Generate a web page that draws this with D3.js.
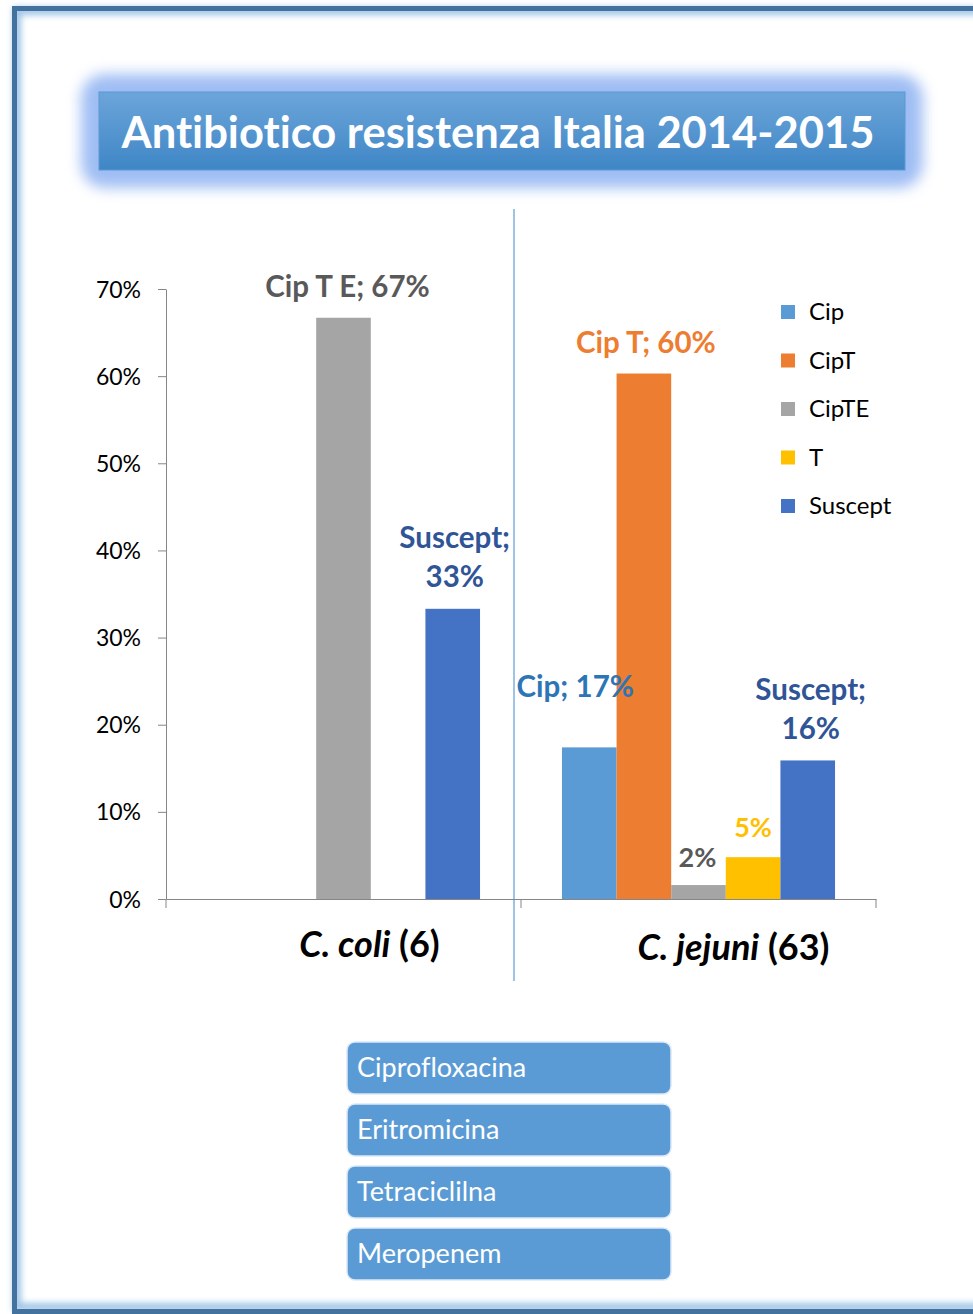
<!DOCTYPE html>
<html>
<head>
<meta charset="utf-8">
<script src="https://cdn.jsdelivr.net/npm/d3@7"></script>
<style>
  html, body { margin: 0; padding: 0; background: #fff; }
  svg { display: block; }
  text { font-family: Lato, "Open Sans", sans-serif; font-variant-ligatures: none; font-feature-settings: "liga" 0; }
</style>
</head>
<body>
<svg id="chart" width="973" height="1314"></svg>
<script>
// ---- data ----
const categories = ["C. coli", "C. jejuni"];
const categorySizes = [6, 63];
const series = ["Cip", "CipT", "CipTE", "T", "Suscept"];
const seriesLabelNames = ["Cip", "Cip T", "Cip T E", "T", "Suscept"];
const coliValues = [0, 0, 0.667, 0, 0.333];
const jejuniValues = [0.174, 0.603, 0.016, 0.048, 0.159];
const yTicks = [0, 0.1, 0.2, 0.3, 0.4, 0.5, 0.6, 0.7];
const antibiotics = ["Ciprofloxacina", "Eritromicina", "Tetraciclilna", "Meropenem"];
const titleText = "Antibiotico resistenza Italia 2014-2015";

// ---- styles ----
const seriesColors = ["#5B9BD5", "#ED7D31", "#A5A5A5", "#FFC000", "#4472C4"];
const labelColors = ["#2E75B6", "#ED7D31", "#595959", "#FFC000", "#2F5597"];

const svg = d3.select("#chart");
const defs = svg.append("defs");

// soft blur filters
defs.append("filter").attr("id", "glow")
  .attr("x", "-20%").attr("y", "-50%").attr("width", "140%").attr("height", "200%")
  .append("feGaussianBlur").attr("stdDeviation", 7);
defs.append("filter").attr("id", "edgeGlow")
  .attr("x", "-5%").attr("y", "-5%").attr("width", "110%").attr("height", "110%")
  .append("feGaussianBlur").attr("stdDeviation", 3);

const titleGrad = defs.append("linearGradient").attr("id", "titleGrad")
  .attr("x1", 0).attr("y1", 0).attr("x2", 0).attr("y2", 1);
titleGrad.append("stop").attr("offset", "0%").attr("stop-color", "#6CA5DA");
titleGrad.append("stop").attr("offset", "100%").attr("stop-color", "#3F86C6");

// ---- page frame ----
const frame = svg.append("g");
frame.append("rect")
  .attr("x", 17).attr("y", 11).attr("width", 980).attr("height", 1296)
  .attr("fill", "none").attr("stroke", "#9DC3E6").attr("stroke-width", 8)
  .attr("filter", "url(#edgeGlow)");
frame.append("rect")
  .attr("x", 14.5).attr("y", 8.5).attr("width", 990).attr("height", 1303)
  .attr("fill", "none").attr("stroke", "#44729E").attr("stroke-width", 5);

// ---- title ----
const titleBox = { x: 99, y: 92, w: 806, h: 78 };
svg.append("rect")
  .attr("x", titleBox.x - 18).attr("y", titleBox.y - 18)
  .attr("width", titleBox.w + 36).attr("height", titleBox.h + 36)
  .attr("rx", 24).attr("fill", "#8FB2F2").attr("opacity", 0.85)
  .attr("filter", "url(#glow)");
svg.append("rect")
  .attr("x", titleBox.x).attr("y", titleBox.y)
  .attr("width", titleBox.w).attr("height", titleBox.h)
  .attr("fill", "url(#titleGrad)").attr("stroke", "#5A9AD3").attr("stroke-width", 1);
svg.append("text")
  .attr("x", titleBox.x + titleBox.w / 2 - 4).attr("y", titleBox.y + 56)
  .attr("text-anchor", "middle")
  .attr("font-size", 43.5).attr("font-weight", 700).attr("fill", "#fff")
  .text(titleText);

// ---- scales ----
const x0 = d3.scaleBand().domain(categories).range([166, 876]).padding(0);
const x1 = d3.scaleBand().domain(series).range([0, x0.bandwidth()])
  .paddingInner(0).paddingOuter(0.75);
const y = d3.scaleLinear().domain([0, 0.7]).range([899, 289]);
const pct = d3.format(".0%");

// separator between the two species
svg.append("line")
  .attr("x1", x0("C. jejuni") - 7).attr("x2", x0("C. jejuni") - 7)
  .attr("y1", 209).attr("y2", 981)
  .attr("stroke", "#9DC3E6").attr("stroke-width", 2);

// ---- axes ----
const yAxis = svg.append("g")
  .attr("transform", `translate(${x0.range()[0]},0)`)
  .call(d3.axisLeft(y).tickValues(yTicks).tickFormat(pct).tickSize(8).tickSizeOuter(0).tickPadding(17));
yAxis.selectAll("path, line").attr("stroke", "#868686");
yAxis.selectAll("text").attr("font-size", 23).attr("fill", "#000")
  .attr("font-family", "Lato, sans-serif").attr("dy", "0.35em");

const xAxis = svg.append("g")
  .attr("transform", `translate(0,${y(0)})`)
  .call(d3.axisBottom(x0).tickValues([]).tickSizeOuter(0));
xAxis.select("path").attr("stroke", "#868686");
// category boundary ticks
const bounds = [x0.range()[0], x0("C. jejuni"), x0.range()[1]];
svg.append("g").selectAll("line").data(bounds).join("line")
  .attr("x1", d => d).attr("x2", d => d)
  .attr("y1", y(0)).attr("y2", y(0) + 9)
  .attr("stroke", "#868686").attr("stroke-width", 1);

// ---- bars ----
const groups = [
  { cat: "C. coli", values: coliValues },
  { cat: "C. jejuni", values: jejuniValues }
];
const barData = [];
groups.forEach(g => g.values.forEach((v, i) => {
  if (v > 0) barData.push({ cat: g.cat, s: series[i], i, v });
}));

svg.append("g").selectAll("rect").data(barData).join("rect")
  .attr("x", d => x0(d.cat) + x1(d.s))
  .attr("y", d => y(d.v))
  .attr("width", x1.bandwidth())
  .attr("height", d => y(0) - y(d.v))
  .attr("fill", d => seriesColors[d.i]);

// ---- data labels ----
// which bars show the series name, nudges and line layout
const labelLayout = {
  "C. coli|CipTE":   { name: true, lines: 1, dx: 4, gap: 21 },
  "C. coli|Suscept": { name: true, lines: 2, dx: 2, gap: 22 },
  "C. jejuni|Cip":   { name: true, lines: 1, dx: -14, gap: 50 },
  "C. jejuni|CipT":  { name: true, lines: 1, dx: 2, gap: 21 },
  "C. jejuni|CipTE": { name: false, lines: 1, dx: -1, gap: 18 },
  "C. jejuni|T":     { name: false, lines: 1, dx: 0, gap: 20 },
  "C. jejuni|Suscept": { name: true, lines: 2, dx: 3, gap: 21 }
};
const lineH = 39;
const labels = svg.append("g");
barData.forEach(d => {
  const L = labelLayout[d.cat + "|" + d.s];
  const cx = x0(d.cat) + x1(d.s) + x1.bandwidth() / 2 + L.dx;
  const base = y(d.v) - L.gap;
  const parts = L.name
    ? (L.lines === 2 ? [seriesLabelNames[d.i] + ";", pct(d.v)] : [seriesLabelNames[d.i] + "; " + pct(d.v)])
    : [pct(d.v)];
  const t = labels.append("text")
    .attr("text-anchor", "middle")
    .attr("font-size", L.name ? 29.5 : 27).attr("font-weight", 700)
    .attr("fill", labelColors[d.i]);
  parts.forEach((p, k) => {
    t.append("tspan").attr("x", cx)
      .attr("y", base - (parts.length - 1 - k) * lineH)
      .text(p);
  });
});

// ---- category labels ----
const catLabels = svg.append("g");
categories.forEach((c, i) => {
  const cx = x0(c) + x0.bandwidth() / 2 + (i === 0 ? 26 : 35);
  const t = catLabels.append("text")
    .attr("x", cx).attr("y", 957 + i * 3)
    .attr("text-anchor", "middle")
    .attr("font-size", 36).attr("font-weight", 700).attr("fill", "#000");
  t.append("tspan").attr("font-style", "italic").text(c);
  t.append("tspan").text(" (" + categorySizes[i] + ")");
});

// ---- legend ----
const legend = svg.append("g").attr("transform", "translate(781,312)");
const li = legend.selectAll("g").data(series).join("g")
  .attr("transform", (d, i) => `translate(0,${i * 48.5})`);
li.append("rect").attr("x", 0).attr("y", -7).attr("width", 14).attr("height", 14)
  .attr("fill", (d, i) => seriesColors[i]);
li.append("text").attr("x", 28).attr("y", 0).attr("dy", "0.35em")
  .attr("font-size", 24).attr("fill", "#000").text(d => d);

// ---- antibiotic boxes ----
const boxes = svg.append("g").attr("transform", "translate(347,1042)");
const bi = boxes.selectAll("g").data(antibiotics).join("g")
  .attr("transform", (d, i) => `translate(0,${i * 62})`);
bi.append("rect").attr("width", 324).attr("height", 52).attr("rx", 8)
  .attr("fill", "#5B9BD5").attr("stroke", "#DCE9F6").attr("stroke-width", 1.5);
bi.append("text").attr("x", 10).attr("y", 26).attr("dy", "0.35em")
  .attr("font-size", 27).attr("fill", "#fff").text(d => d);
</script>
</body>
</html>
